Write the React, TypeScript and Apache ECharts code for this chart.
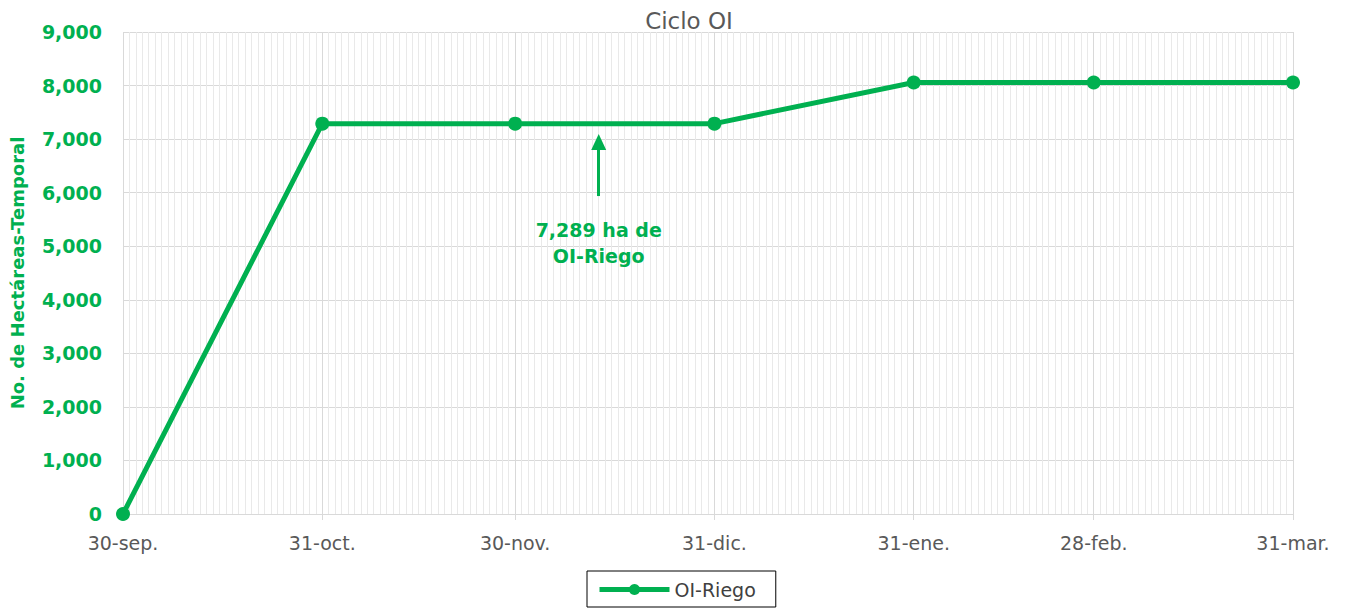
import React, { useEffect, useRef } from "react";
import * as echarts from "echarts";

const dates = ["2022-09-30", "2022-10-31", "2022-11-30", "2022-12-31", "2023-01-31", "2023-02-28", "2023-03-31"];
const dateLabels = ["30-sep.", "31-oct.", "30-nov.", "31-dic.", "31-ene.", "28-feb.", "31-mar."];
const riego = [0, 7289, 7289, 7289, 8058, 8058, 8058];
const annotationDate = "2022-12-13";
const annotationArrow = [5937, 6946];
const annotationTextValue = 5060;
const annotationText = "7,289 ha de\nOI-Riego";

const GREEN = "#00b050";
const FONT = "'DejaVu Sans', 'Noto Sans', sans-serif";

const dayOffset = (d: string) =>
  Math.round((Date.parse(d + "T00:00:00Z") - Date.parse(dates[0] + "T00:00:00Z")) / 86400000);

export default function App() {
  const ref = useRef<HTMLDivElement>(null);
  useEffect(() => {
    if (!ref.current) return;
    const chart = echarts.init(ref.current, null, { renderer: "svg" });
    const xs = dates.map(dayOffset);
    const labelMap: Record<number, string> = {};
    xs.forEach((x, i) => (labelMap[x] = dateLabels[i]));
    const ax = dayOffset(annotationDate);
    const xMax = xs[xs.length - 1];
    chart.setOption({
      animation: false,
      textStyle: { fontFamily: FONT },
      title: {
        text: "Ciclo OI",
        left: 684,
        textAlign: "center",
        top: 4,
        textStyle: { fontFamily: FONT, fontSize: 23, fontWeight: "normal", color: "#595959" },
      },
      legend: {
        top: 571,
        left: 587,
        data: ["OI-Riego"],
        borderColor: "#000",
        borderWidth: 1,
        padding: [9, 20, 8, 10],
        itemWidth: 70,
        itemHeight: 14,
        lineStyle: { width: 5 },
        textStyle: { fontFamily: FONT, fontSize: 19, color: "#404040" },
      },
      grid: { left: 122, right: 53, top: 32, bottom: 98 },
      xAxis: [
        {
          type: "value",
          min: 0,
          max: xMax,
          interval: 1,
          z: 2,
          axisLine: { show: true, lineStyle: { color: "#d9d9d9" } },
          axisTick: { show: true, customValues: xs, length: 6, lineStyle: { color: "#d9d9d9" } },
          axisLabel: {
            customValues: xs,
            formatter: (v: number) => labelMap[v] ?? "",
            fontFamily: FONT,
            fontSize: 19,
            color: "#595959",
            margin: 19,
          },
          splitLine: { show: true, lineStyle: { color: "#d9d9d9", width: 1 } },
        },
        {
          type: "value",
          min: 0,
          max: xMax,
          interval: 1,
          position: "bottom",
          z: 0,
          axisLine: { show: false },
          axisTick: { show: false },
          axisLabel: { show: false },
          splitLine: { show: true, lineStyle: { color: "#e9e9e9", width: 1 } },
        },
      ],
      yAxis: {
        type: "value",
        min: 0,
        max: 9000,
        interval: 1000,
        name: "No. de Hectáreas-Temporal",
        nameLocation: "middle",
        nameGap: 97,
        nameTextStyle: { fontFamily: FONT, fontSize: 18, fontWeight: "bold", color: GREEN },
        axisLine: { show: false },
        axisTick: { show: false },
        axisLabel: {
          formatter: (v: number) => v.toLocaleString("en-US"),
          fontFamily: FONT,
          fontSize: 19,
          fontWeight: "bold",
          color: GREEN,
          margin: 21,
        },
        splitLine: { show: true, lineStyle: { color: "#d9d9d9", width: 1 } },
      },
      series: [
        {
          name: "OI-Riego",
          type: "line",
          z: 3,
          data: xs.map((x, i) => [x, riego[i]]),
          symbol: "circle",
          symbolSize: 14,
          lineStyle: { color: GREEN, width: 5 },
          itemStyle: { color: GREEN },
          markLine: {
            silent: true,
            symbol: ["none", "triangle"],
            symbolSize: [15, 16],
            label: { show: false },
            lineStyle: { color: GREEN, width: 3, type: "solid" },
            data: [[{ coord: [ax, annotationArrow[0]] }, { coord: [ax, annotationArrow[1]] }]],
          },
          markPoint: {
            silent: true,
            symbol: "circle",
            symbolSize: 0,
            data: [
              {
                coord: [ax, annotationTextValue],
                label: {
                  show: true,
                  position: "inside",
                  formatter: annotationText,
                  fontFamily: FONT,
                  fontSize: 19,
                  fontWeight: "bold",
                  lineHeight: 26,
                  color: GREEN,
                  align: "center",
                },
              },
            ],
          },
        },
      ],
    });
    return () => chart.dispose();
  }, []);
  return (
    <div
      ref={ref}
      style={{ position: "absolute", left: 0, top: 0, width: 1346, height: 612 }}
    />
  );
}
